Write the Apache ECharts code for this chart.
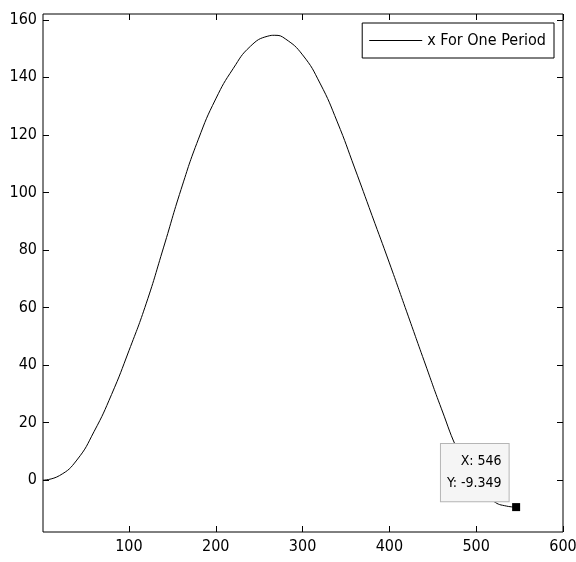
<!DOCTYPE html>
<html>
<head>
<meta charset="utf-8">
<script src="https://cdn.jsdelivr.net/npm/echarts@6/dist/echarts.min.js"></script>
<style>html,body{margin:0;padding:0;background:#fff}#c{width:576px;height:562px}</style>
</head>
<body>
<div id="c"></div>
<script>
const seriesName = 'x For One Period';
const xValues = [1, 20, 40, 60, 80, 100, 120, 140, 160, 180, 200, 220, 240, 260, 268, 280, 300, 320, 340, 360, 380, 400, 420, 440, 460, 480, 500, 520, 535, 546];
const yValues = [0, 1.6, 7, 17, 29.8, 45, 61.5, 81, 101, 118.5, 132.5, 143, 150.8, 154.3, 154.6, 153.4, 147.8, 138, 124.5, 108.5, 92, 75.5, 58.5, 41.5, 24.8, 9.5, -1.5, -7.3, -9.0, -9.349];
const xTicks = [100, 200, 300, 400, 500, 600];
const yTicks = [0, 20, 40, 60, 80, 100, 120, 140, 160];
const xRange = [1, 600];
const yRange = [-18, 162];
const tipX = 546;
const tipY = -9.349;

const font = '"Liberation Sans Narrow", "DejaVu Sans Condensed", "Liberation Sans", sans-serif';
const data = xValues.map((x, i) => [x, yValues[i]]);

function axisCommon(showLabel, ticks, range) {
  return {
    type: 'value', min: range[0], max: range[1],
    axisLine: { show: false, onZero: false },
    splitLine: { show: false },
    axisTick: { show: true, inside: true, length: 6, customValues: ticks, lineStyle: { color: '#000', width: 1 } },
    axisLabel: { show: showLabel, customValues: ticks, color: '#000', fontFamily: font, fontSize: 16 }
  };
}

const chart = echarts.init(document.getElementById('c'), null, { renderer: 'canvas' });
const xb = axisCommon(true, xTicks, xRange); xb.position = 'bottom'; xb.axisLabel.margin = 7;
const xt = axisCommon(false, xTicks, xRange); xt.position = 'top';
const yl = axisCommon(true, yTicks, yRange); yl.position = 'left'; yl.axisLabel.margin = 6;
const yr = axisCommon(false, yTicks, yRange); yr.position = 'right';

chart.setOption({
  animation: false,
  backgroundColor: '#fff',
  grid: { left: 43, right: 13, top: 14, bottom: 30, outerBoundsMode: 'none', containLabel: false, show: true, borderColor: '#000', borderWidth: 1, backgroundColor: 'transparent' },
  xAxis: [xb, xt],
  yAxis: [yl, yr],
  legend: {
    show: true, right: 22, top: 23,
    backgroundColor: '#fff', borderColor: '#000', borderWidth: 1,
    padding: [9, 8, 9, 7],
    itemWidth: 53, itemHeight: 1, itemGap: 5,
    icon: 'rect',
    itemStyle: { color: '#000' },
    textStyle: { fontFamily: font, fontSize: 16, color: '#000', lineHeight: 17 },
    data: [seriesName]
  },
  series: [{
    name: seriesName, type: 'line', xAxisIndex: 0, yAxisIndex: 0,
    data: data, smooth: 0.5, symbol: 'none', showSymbol: false,
    lineStyle: { color: '#000', width: 1 },
    itemStyle: { color: '#000' },
    markPoint: {
      symbol: 'rect', symbolSize: 8,
      itemStyle: { color: '#000' },
      data: [{ coord: [tipX, tipY] }],
      label: {
        show: true, position: 'left', distance: 3.5, offset: [0, -34.5],
        formatter: 'X: ' + tipX + '\nY: ' + tipY,
        align: 'right',
        fontFamily: font, fontSize: 14, color: '#000', lineHeight: 21.6,
        backgroundColor: '#f5f5f5', borderColor: '#b5b5b5', borderWidth: 1,
        padding: [7, 7, 7, 6]
      }
    }
  }]
});
</script>
</body>
</html>
